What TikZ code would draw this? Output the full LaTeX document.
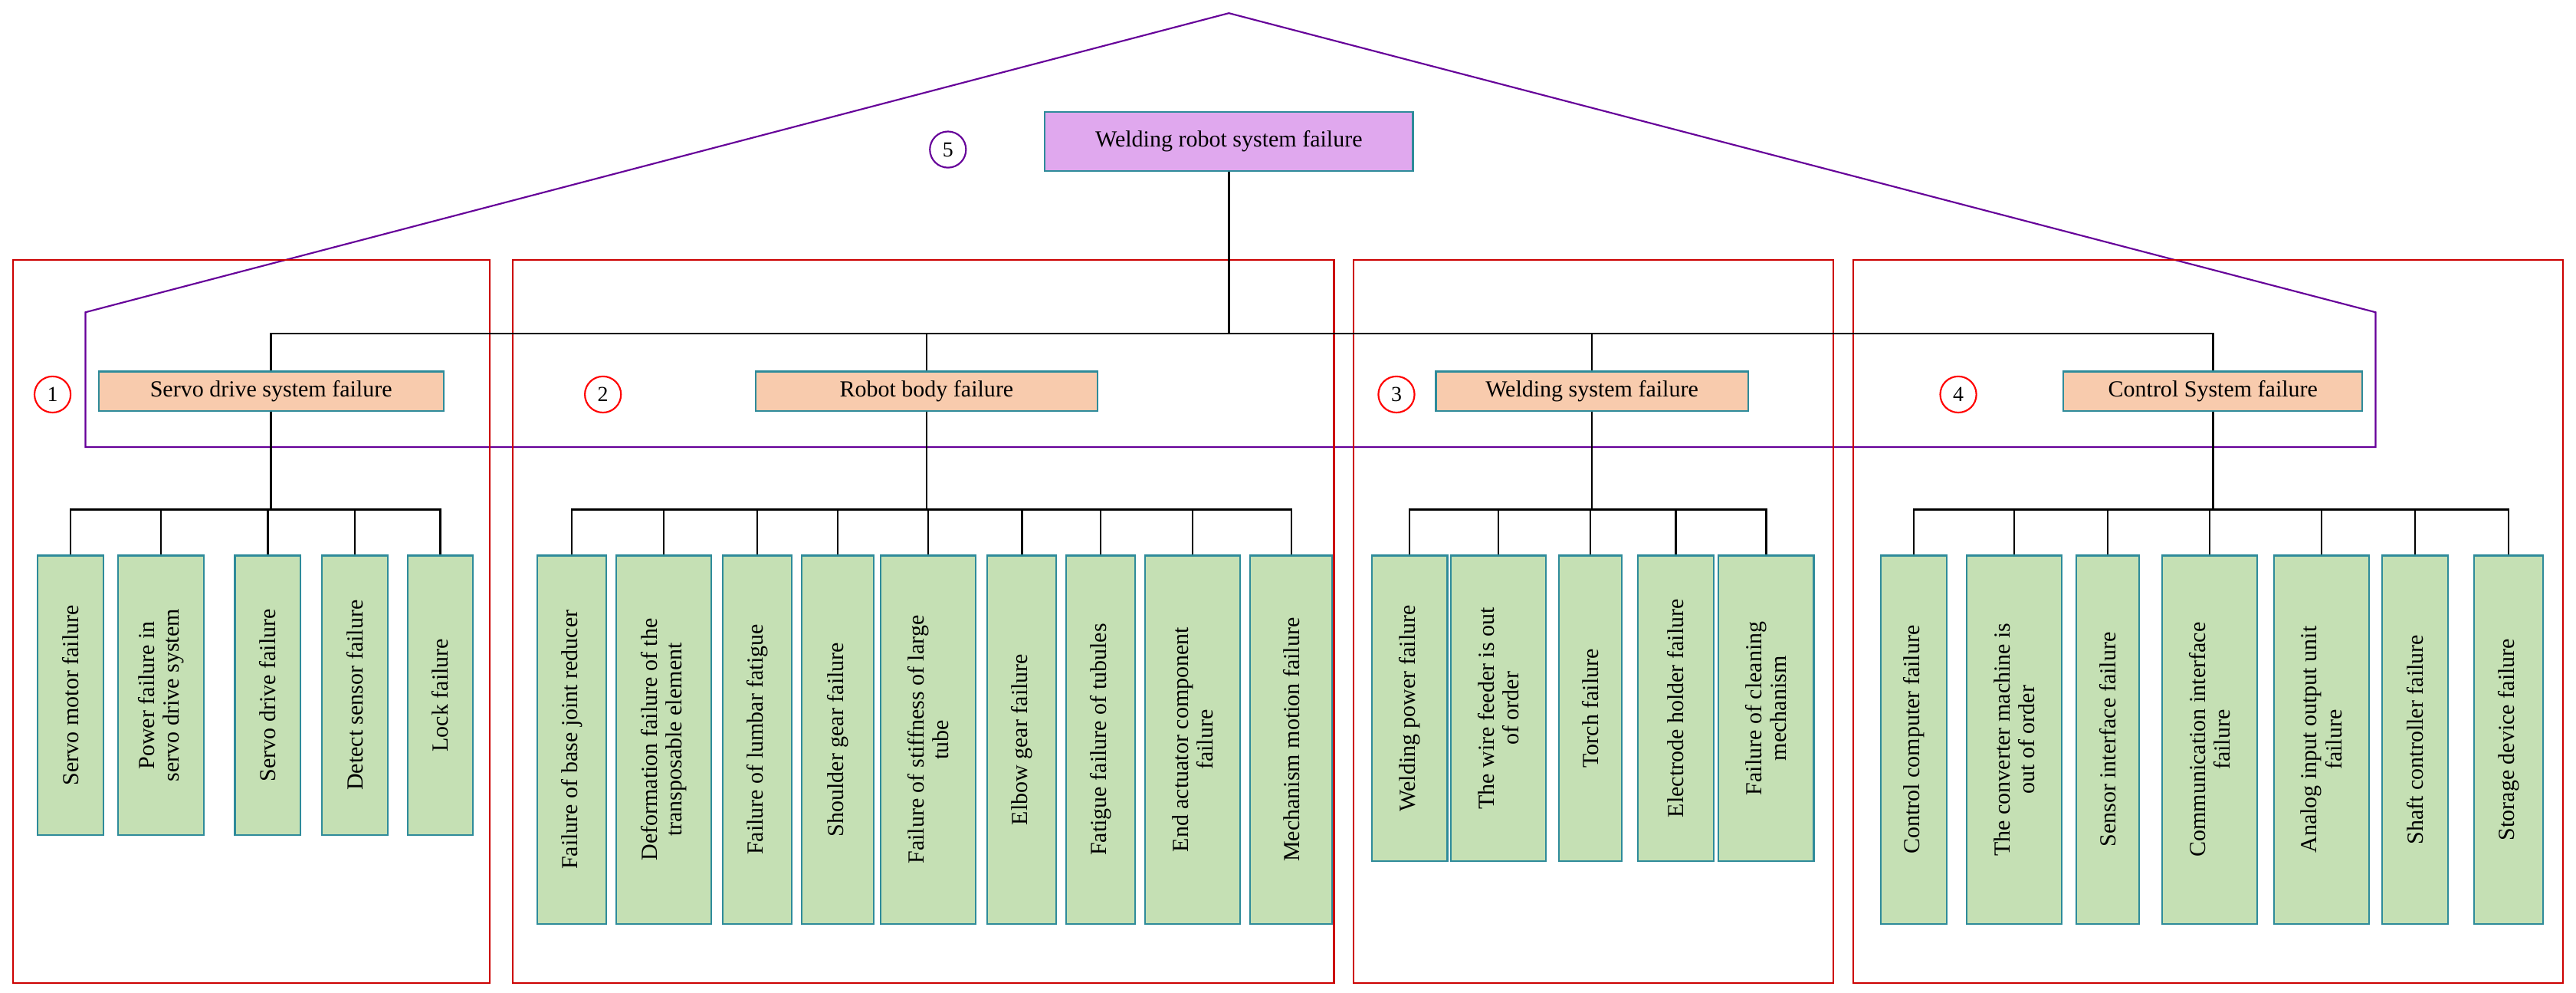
\documentclass[tikz,border=0pt]{standalone}
\usepackage{fontspec}
\setmainfont{Liberation Serif}
\definecolor{leafc}{HTML}{C5E0B4}
\definecolor{subc}{HTML}{F8CBAD}
\definecolor{topc}{HTML}{E0A8EE}
\definecolor{edgec}{HTML}{2E8B9A}
\begin{document}
\begin{tikzpicture}[x=1pt,y=-1pt,
  box/.style={draw=edgec,line width=1pt,inner sep=1pt,font=\fontsize{14}{15}\selectfont},
  top/.style={box,fill=topc,minimum width=224pt,minimum height=36pt},
  sub/.style={box,fill=subc,minimum height=24pt},
  leaf/.style={box,fill=leafc,rotate=90,align=center,font=\fontsize{14}{15}\selectfont},
  red/.style={draw=red!80!black,line width=1pt},
  num/.style={circle,draw=red,line width=1pt,minimum size=22pt,inner sep=0pt,font=\fontsize{13}{14}\selectfont},
  ln/.style={line width=1.2pt}]
\useasboundingbox (0,0) rectangle (1568,604);
\draw[violet!80!blue,line width=1pt] (52,272) -- (52,190) -- (748,8) -- (1446,190) -- (1446,272) -- cycle;
\foreach \a/\b in {8/298,312/812,824/1116,1128/1560} \draw[red] (\a,158) rectangle (\b,598);
\node[top] (T) at (748,86) {Welding robot system failure};
\node[num,draw=violet!80!blue] (c5) at (577,91) {5};
\node[sub,minimum width=210pt] (S1) at (165,238) {Servo drive system failure};
\node[sub,minimum width=208pt] (S2) at (564,238) {Robot body failure};
\node[sub,minimum width=190pt] (S3) at (969,238) {Welding system failure};
\node[sub,minimum width=182pt] (S4) at (1347,238) {Control System failure};
\node[num] (c1) at (32,240) {1};
\node[num] (c2) at (367,240) {2};
\node[num] (c3) at (850,240) {3};
\node[num] (c4) at (1192,240) {4};
\foreach \s in {S1,S2,S3,S4} \draw[ln] (T.south) -- (T.south |- 0,203) -| (\s.north);
\newcommand\leafrow[4]{%
 \foreach \n/\x/\w/\t in {#4} {
  \node[leaf,minimum width=#2pt,minimum height=\w pt] (\n) at (\x,{338+#2/2}) {\t};
  \draw[ln] (#1.south) -- (#1.south |- 0,310) -| (\n.east);
 }}
\leafrow{S1}{170}{}{a1/43/40/Servo motor failure,a2/98/52/Power failure in\\servo drive system,a3/163/40/Servo drive failure,a4/216/40/Detect sensor failure,a5/268/40/Lock failure}
\leafrow{S2}{224}{}{b1/348/42/Failure of base joint reducer,b2/404/58/Deformation failure of the\\transposable element,b3/461/42/Failure of lumbar fatigue,b4/510/44/Shoulder gear failure,b5/565/58/Failure of stiffness of large\\tube,b6/622/42/Elbow gear failure,b7/670/42/Fatigue failure of tubules,b8/726/58/End actuator component\\failure,b9/786/50/Mechanism motion failure}
\leafrow{S3}{186}{}{d1/858/46/Welding power failure,d2/912/58/The wire feeder is out\\of order,d3/968/38/Torch failure,d4/1020/46/Electrode holder failure,d5/1075/58/Failure of cleaning\\mechanism}
\leafrow{S4}{224}{}{e1/1165/40/Control computer failure,e2/1226/58/The converter machine is\\out of order,e3/1283/38/Sensor interface failure,e4/1345/58/Communication interface\\failure,e5/1413/58/Analog input output unit\\failure,e6/1470/40/Shaft controller failure,e7/1527/42/Storage device failure}
\end{tikzpicture}
\end{document}
